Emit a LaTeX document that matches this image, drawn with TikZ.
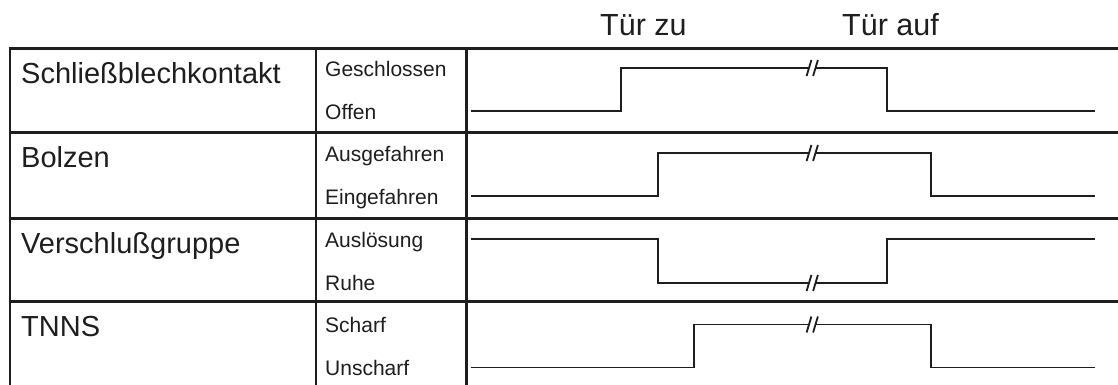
\documentclass[tikz,border=0pt]{standalone}
\usepackage{fontspec}
\setmainfont{Liberation Sans}
\definecolor{lc}{HTML}{1E1E1E}
\definecolor{tc}{HTML}{1E1E1E}
\newcommand\tdbreak[2]{%
  \draw[brk] (#1-2.4,#2+8) -- (#1+2.4,#2-8);
  \draw[brk] (#1+4.1,#2+8) -- (#1+8.9,#2-8);}
\begin{document}
\begin{tikzpicture}[x=1pt,y=-1pt,
  grid/.style={line width=2.6pt, color=lc},
  sig/.style={line width=1.8pt, color=lc, line join=miter},
  brk/.style={line width=1.8pt, color=lc},
  big/.style={anchor=base west, inner sep=0pt, font=\fontsize{29}{34}\selectfont, text=tc},
  small/.style={anchor=base west, inner sep=0pt, font=\fontsize{21}{25}\selectfont, text=tc},
  head/.style={anchor=base west, inner sep=0pt, font=\fontsize{30.5}{36}\selectfont, text=tc}]
\useasboundingbox (0,0) rectangle (1118,385);
% header
\node[head] (tz) at (600,36) {Tür zu};
\node[head] (ta) at (842,36) {Tür auf};
% table
\foreach \yy in {48.3,132.7,218.3,301.7} \draw[grid] (8.7,\yy) -- (1118,\yy);
\foreach \xx in {10,316,466.5} \draw[grid] (\xx,48.3) -- (\xx,385);
% big labels
\node[big] (l1) at (21,83.3) {Schließblechkontakt};
\node[big] (l2) at (21,167.7) {Bolzen};
\node[big] (l3) at (21,253.3) {Verschlußgruppe};
\node[big] (l4) at (21,336.7) {TNNS};
% state labels
\node[small] (s1a) at (325,76.5) {Geschlossen};
\node[small] (s1b) at (325,119.5) {Offen};
\node[small] (s2a) at (325,161.5) {Ausgefahren};
\node[small] (s2b) at (325,204.5) {Eingefahren};
\node[small] (s3a) at (325,247.5) {Auslösung};
\node[small] (s3b) at (325,290.5) {Ruhe};
\node[small] (s4a) at (325,332.5) {Scharf};
\node[small] (s4b) at (325,375) {Unscharf};
% signals
\draw[sig] (471,111) -- (621,111) -- (621,68) -- (809,68);
\draw[sig] (815.5,68) -- (887,68) -- (887,111) -- (1095,111);
\tdbreak{809}{68}
\draw[sig] (471,196) -- (658,196) -- (658,153) -- (809,153);
\draw[sig] (815.5,153) -- (931,153) -- (931,196) -- (1095,196);
\tdbreak{809}{153}
\draw[sig] (471,239) -- (658,239) -- (658,283) -- (809,283);
\draw[sig] (815.5,283) -- (887,283) -- (887,239) -- (1095,239);
\tdbreak{809}{283}
\draw[sig] (471,367.5) -- (694,367.5) -- (694,324.5) -- (809,324.5);
\draw[sig] (815.5,324.5) -- (931,324.5) -- (931,367.5) -- (1095,367.5);
\tdbreak{809}{324.5}
\end{tikzpicture}
\end{document}
